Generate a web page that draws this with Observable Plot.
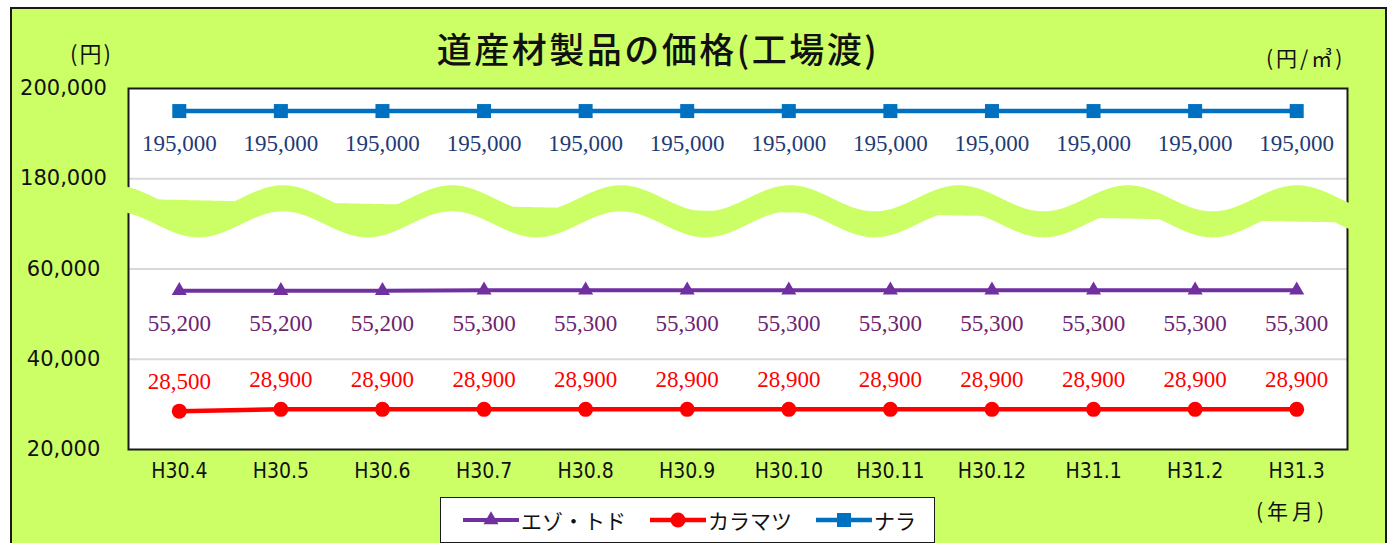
<!DOCTYPE html>
<html><head><meta charset="utf-8">
<script src="https://cdn.jsdelivr.net/npm/d3@7"></script>
<script src="https://cdn.jsdelivr.net/npm/@observablehq/plot@0.6"></script>
<style>
body{margin:0;background:#fff;width:1394px;height:543px;overflow:hidden;position:relative;font-family:"Noto Sans CJK JP",sans-serif}
#frame{position:absolute;left:10px;top:7px;width:1377px;height:560px;background:#ccff66;border:2px solid #1a1a1a;box-sizing:border-box}
#chart{position:absolute;left:0;top:0}
.t{position:absolute;white-space:nowrap;color:#111;line-height:1}
#title{left:658px;top:30px;transform:translateX(-50%);font-size:35px;font-weight:500;letter-spacing:2.5px}
#unitL{left:70px;top:41px;font-size:22px;letter-spacing:2px}
#unitR{left:1266px;top:47px;font-size:21px;letter-spacing:3px}
#unitX{left:1256px;top:500px;font-size:21px;letter-spacing:4px}
#legend{position:absolute;left:440px;top:497px;width:495px;height:46px;background:#fff;border:1px solid #1a1a1a;box-sizing:border-box;display:flex;align-items:center;padding-left:22px;gap:24px}
.item{display:flex;align-items:center;gap:2px;font-size:21px;color:#111}
</style></head><body>
<div id="frame"></div>
<div id="chart"></div>
<div class="t" id="title">道産材製品の価格(工場渡)</div>
<div class="t" id="unitL">(円)</div>
<div class="t" id="unitR">(円/㎥)</div>
<div class="t" id="unitX">(年月)</div>
<div id="legend"></div>
<script>
const months = ["H30.4","H30.5","H30.6","H30.7","H30.8","H30.9","H30.10","H30.11","H30.12","H31.1","H31.2","H31.3"];
const ezoTodo = [55200,55200,55200,55300,55300,55300,55300,55300,55300,55300,55300,55300];
const karamatsu = [28500,28900,28900,28900,28900,28900,28900,28900,28900,28900,28900,28900];
const nara = [195000,195000,195000,195000,195000,195000,195000,195000,195000,195000,195000,195000];
const yTicks = [20000,40000,60000,180000,200000];

const series = [
  {name:"エゾ・トド", values:ezoTodo, color:"#7030a0", label:"#6e2470", symbol:"triangle", r:5.6, sw:4, dy:33},
  {name:"カラマツ", values:karamatsu, color:"#ff0000", label:"#ff0000", symbol:"circle", r:7.5, sw:4.5, dy:-30},
  {name:"ナラ", values:nara, color:"#0070c0", label:"#1f3b73", symbol:"square", r:7.9, sw:4.5, dy:33}
];

// broken axis: values above the break are shifted down by 100,000
const GAP = 100000;
const brk = v => v > 100000 ? v - GAP : v;
const fmt = d3.format(",");

const marks = [
  Plot.frame({fill:"white"}),
  Plot.gridY(yTicks.map(brk).filter(v => v > 20000 && v < 100000), {stroke:"#d9d9d9", strokeOpacity:1, strokeWidth:2}),
  Plot.frame({stroke:"#1a1a1a", strokeWidth:2}),
  Plot.axisY(yTicks.map(brk), {tickSize:0, tickPadding:65, textAnchor:"middle", tickFormat:v => fmt(v > 60000 ? v + GAP : v), fontSize:21, fontFamily:"DejaVu Sans", fill:"#111", label:null}),
  Plot.axisX({tickSize:0, tickPadding:14, fontSize:21, fontFamily:"DejaVu Sans Condensed, DejaVu Sans", fill:"#111", label:null})
];
for (const s of series) {
  const rows = months.map((m, i) => ({m, v:s.values[i]}));
  marks.push(
    Plot.line(rows, {x:"m", y:d => brk(d.v), stroke:s.color, strokeWidth:s.sw}),
    Plot.dot(rows, {x:"m", y:d => brk(d.v), symbol:s.symbol, r:s.r, fill:s.color, stroke:"none"}),
    Plot.text(rows, {x:"m", y:d => brk(d.v), text:d => fmt(d.v), dy:s.dy, fill:s.label, fontSize:23, fontFamily:"Liberation Serif"})
  );
}

const chart = Plot.plot({
  width:1394, height:543,
  marginLeft:128, marginRight:47, marginTop:88, marginBottom:94,
  style:{background:"transparent", overflow:"visible"},
  x:{type:"point", domain:months, padding:0.5, round:false, axis:null},
  y:{domain:[20000,100000], axis:null},
  marks
});
document.getElementById("chart").append(chart);

// decorative axis-break wave
const ys = chart.scale("y");
const yA = ys.apply(80000), yB = ys.apply(60000);
const k = (yB - yA) / 90;
const xL = 128, xR = 1347;
const period = 169, peak = 283, amp = 13 * k, half = 13 * k, base = yA + 33 * k;
const upper = [], lower = [];
for (let x = xL - 3; x <= xR + 4; x += 2) {
  const c = base - amp * Math.cos(2 * Math.PI * (x - peak) / period);
  const lt = yA + 21 * k + 0.0204 * (x - 148);
  const lb = yA + 37 * k + 0.018 * (x - 950);
  upper.push([x, Math.min(c - half, lt)]);
  lower.push([x, Math.max(c + half, lb)]);
}
const pts = upper.concat(lower.reverse());
d3.select(chart).append("path")
  .attr("d", "M" + pts.map(p => p.join(",")).join("L") + "Z")
  .attr("fill", "#ccff66");

// legend
const legend = d3.select("#legend");
for (const s of series) {
  const it = legend.append("div").attr("class", "item");
  const sv = it.append("svg").attr("width", 56).attr("height", 20);
  sv.append("line").attr("x1", 0).attr("x2", 56).attr("y1", 10).attr("y2", 10).attr("stroke", s.color).attr("stroke-width", s.sw);
  const sym = {triangle:d3.symbolTriangle, circle:d3.symbolCircle, square:d3.symbolSquare}[s.symbol];
  sv.append("path").attr("transform", "translate(28,10)").attr("d", d3.symbol(sym, Math.PI * s.r * s.r)()).attr("fill", s.color);
  it.append("span").text(s.name);
}
</script>
</body></html>
